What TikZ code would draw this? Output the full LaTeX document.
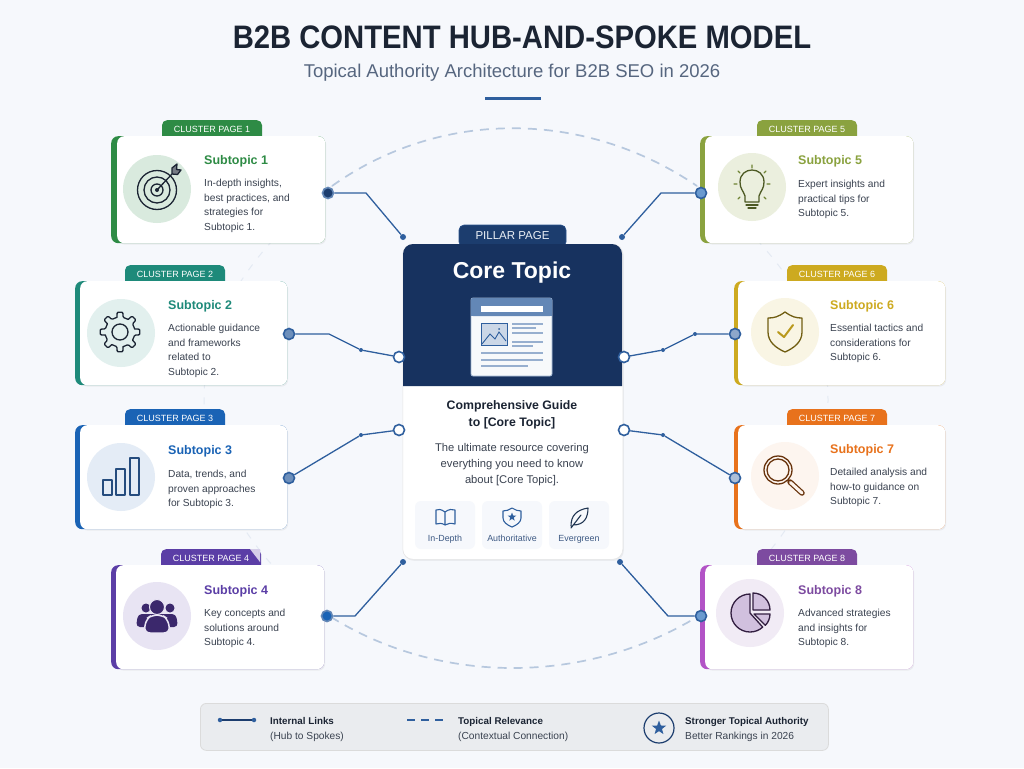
\documentclass[tikz,border=0pt]{standalone}
\usepackage{fontspec}
\setmainfont{Liberation Sans}
\newfontfamily\headfont[FakeStretch=.9]{Liberation Sans}
\usepackage{tikz}
\usetikzlibrary{calc,shadows,shapes.geometric}
\definecolor{pagebg}{HTML}{F6F8FC}
\definecolor{navy}{HTML}{17325F}
\definecolor{navytab}{HTML}{1C3D6E}
\definecolor{linkblue}{HTML}{2F5F9E}
\definecolor{dashblue}{HTML}{B7C8DE}
\definecolor{bodytext}{HTML}{3A4250}
\definecolor{slate}{HTML}{56667F}
\definecolor{inktext}{HTML}{1B2433}
\definecolor{green1}{HTML}{2E8B45}
\definecolor{teal2}{HTML}{1E8A7A}
\definecolor{blue3}{HTML}{1A63B5}
\definecolor{purple4}{HTML}{5B3EA6}
\definecolor{olive5}{HTML}{8AA23F}
\definecolor{gold6}{HTML}{CDAA20}
\definecolor{orange7}{HTML}{E8721C}
\definecolor{plum8}{HTML}{7D4BA0}
\begin{document}
\begin{tikzpicture}[x=1pt,y=-1pt]
    \tikzstyle{bar node}=[rectangle,rounded corners=7,anchor=north west,inner sep=0]
    \tikzstyle{card node}=[rectangle,rounded corners=7,anchor=north west,inner sep=0,fill=white,drop shadow={opacity=.1,shadow xshift=1pt,shadow yshift=-1.5pt}]
    \tikzstyle{tab node}=[rectangle,rounded corners=5,anchor=north,text=white,inner xsep=0,inner ysep=3.5,minimum width=100pt,text height=8.5pt,text depth=12pt,font=\fontsize{9}{11}\selectfont]
    \tikzstyle{disc node}=[circle,inner sep=0,minimum size=68pt]
    \tikzstyle{title node}=[anchor=west,inner sep=0,font=\fontsize{12.5}{14}\selectfont\bfseries]
    \tikzstyle{body node}=[anchor=north west,inner sep=0,align=left,text=bodytext,font=\fontsize{10.2}{14.5}\selectfont]
    \tikzstyle{port node}=[circle,draw=linkblue,line width=1.6,inner sep=0,minimum size=11pt]
    \tikzstyle{open node}=[circle,draw=linkblue,line width=1.6,fill=white,inner sep=0,minimum size=11pt]
    \tikzstyle{dot node}=[circle,fill=linkblue,inner sep=0,minimum size=6pt]
    \tikzstyle{tiny node}=[circle,fill=linkblue,inner sep=0,minimum size=4pt]
    \tikzstyle{link}=[draw=linkblue,line width=1.3]
    \tikzstyle{relevance}=[draw=dashblue,line width=1.7,dash pattern=on 9pt off 7pt]
    \tikzstyle{faint}=[draw=dashblue,line width=1,opacity=.28,dash pattern=on 7pt off 9pt]
    \tikzstyle{badge node}=[rectangle,rounded corners=6,fill=pagebg,inner sep=0,minimum width=60pt,minimum height=48pt]
    \tikzstyle{badge text}=[anchor=base,inner sep=0,text=navytab!85,font=\fontsize{8.9}{10}\selectfont]
    \tikzstyle{legend bold}=[anchor=base west,inner sep=0,text=inktext,font=\fontsize{9.8}{11}\selectfont\bfseries]
    \tikzstyle{legend plain}=[anchor=base west,inner sep=0,text=bodytext,font=\fontsize{10.2}{11}\selectfont]
    \tikzstyle{icon}=[line width=1.3,line join=round,line cap=round]

    \fill[pagebg](0,0)rectangle(1024,768);
    \useasboundingbox(0,0)rectangle(1024,768);

    \node(title)[inner sep=0,text=inktext,font=\headfont\fontsize{32.5}{36}\selectfont\bfseries]at(522,37){B2B CONTENT HUB-AND-SPOKE MODEL};
    \node(subtitle)[inner sep=0,text=slate,font=\fontsize{18.5}{20}\selectfont]at(512,73){Topical Authority Architecture for B2B SEO in 2026};
    \draw[linkblue,line width=3](485,98.5)--(541,98.5);

    \coordinate(ul)at(332,186);
    \coordinate(ur)at(697,186);
    \coordinate(ll)at(331,617);
    \coordinate(lr)at(697,617);
    \draw[relevance](ul)..controls(440,109)and(584,109)..(ur);
    \draw[relevance](ll)..controls(440,685)and(584,685)..(lr);
    \draw[faint](ul)..controls(250,250)and(204,320)..(204,400)..controls(204,480)and(250,560)..(ll);
    \draw[faint](ur)..controls(780,250)and(828,320)..(828,400)..controls(828,480)and(780,560)..(lr);

    % left cards
    \node(tab1)[tab node,fill=green1]at(212,120){CLUSTER PAGE 1};
    \node(bar1)[bar node,fill=green1,minimum width=214pt,minimum height=107pt]at(111,136){};
    \node(c1)[card node,minimum width=208pt,minimum height=107pt]at(117,136){};
    \node(disc1)[disc node,fill=green1!18]at(157,189){};
    \draw[icon,inktext](157,190)circle(19.5)(157,190)circle(13)(157,190)circle(6);
    \fill[inktext](157,190)circle(2);
    \draw[icon,inktext](157,190)--(172,174);
    \draw[icon,inktext,fill=inktext!60](172,174)--(172,168)--(177,164)--(176.5,169.5)--(181,170)--(177.5,174.5)--cycle;
    \node(t1)[title node,text=green1]at(204,161.5){Subtopic 1};
    \node(b1)[body node]at(204,179){In-depth insights,\\best practices, and\\strategies for\\Subtopic 1.};

    \node(tab2)[tab node,fill=teal2]at(175,265){CLUSTER PAGE 2};
    \node(bar2)[bar node,fill=teal2,minimum width=212pt,minimum height=104pt]at(75,281){};
    \node(c2)[card node,minimum width=207pt,minimum height=104pt]at(80,281){};
    \node(disc2)[disc node,fill=teal2!13]at(121,333){};
    \foreach \a in {0,45,...,315}{
        \draw[icon,inktext,rounded corners=1]($(120,332)+(\a-12:15)$)--($(120,332)+(\a-8:20)$)--($(120,332)+(\a+8:20)$)--($(120,332)+(\a+12:15)$)--($(120,332)+(\a+33:15)$);
    }
    \draw[icon,inktext](120,332)circle(8);
    \node(t2)[title node,text=teal2]at(168,306.5){Subtopic 2};
    \node(b2)[body node]at(168,324){Actionable guidance\\and frameworks\\related to\\Subtopic 2.};

    \node(tab3)[tab node,fill=blue3]at(175,409){CLUSTER PAGE 3};
    \node(bar3)[bar node,fill=blue3,minimum width=212pt,minimum height=104pt]at(75,425){};
    \node(c3)[card node,minimum width=207pt,minimum height=104pt]at(80,425){};
    \node(disc3)[disc node,fill=blue3!12]at(121,477){};
    \draw[icon,linkblue!80!black,line width=1.1,line cap=butt](103,480)rectangle(112,495)(116,469)rectangle(125,495)(130,458)rectangle(139,495);
    \node(t3)[title node,text=blue3]at(168,451.5){Subtopic 3};
    \node(b3)[body node]at(168,470){Data, trends, and\\proven approaches\\for Subtopic 3.};

    \node(tab4)[tab node,fill=purple4]at(211,549){CLUSTER PAGE 4};
    \fill[purple4!25](250,549)--(260,549)--(260,562)--cycle;
    \node(bar4)[bar node,fill=purple4,minimum width=213pt,minimum height=104pt]at(111,565){};
    \node(c4)[card node,minimum width=208pt,minimum height=104pt]at(116,565){};
    \node(disc4)[disc node,fill=purple4!14]at(157,616){};
    \fill[purple4!65!black](146,608)circle(4.5)(170,608)circle(4.5);
    \fill[purple4!65!black,rounded corners=4](136,627)--(138,614)--(152,614)--(162,614)--(176,614)--(178,627)--cycle;
    \draw[draw=purple4!14,line width=1.5,fill=purple4!65!black,rounded corners=6](144,633)--(146,619)--(152,615)--(162,615)--(168,619)--(170,633)--cycle;
    \draw[draw=purple4!14,line width=1,fill=purple4!65!black](157,607)circle(7.5);
    \node(t4)[title node,text=purple4]at(204,591.5){Subtopic 4};
    \node(b4)[body node]at(204,609){Key concepts and\\solutions around\\Subtopic 4.};

    % right cards
    \node(tab5)[tab node,fill=olive5]at(807,120){CLUSTER PAGE 5};
    \node(bar5)[bar node,fill=olive5,minimum width=213pt,minimum height=107pt]at(700,136){};
    \node(c5)[card node,minimum width=208pt,minimum height=107pt]at(705,136){};
    \node(disc5)[disc node,fill=olive5!17]at(752,187){};
    \draw[icon,olive5!55!black](745,202)--(745,196)..controls(743,190)and(740,189)..(740,182)..controls(740,166)and(764,166)..(764,182)..controls(764,189)and(761,190)..(759,196)--(759,202)--cycle;
    \draw[icon,olive5!55!black](746,205)--(758,205)(748,208)--(756,208);
    \draw[icon,olive5!80!black](734,184)--(737,184)(767,184)--(770,184)(752,165)--(752,168)(738,171)--(740,173)(766,171)--(764,173)(738,199)--(740,197)(766,199)--(764,197);
    \node(t5)[title node,text=olive5]at(798,161.5){Subtopic 5};
    \node(b5)[body node]at(798,180){Expert insights and\\practical tips for\\Subtopic 5.};

    \node(tab6)[tab node,fill=gold6]at(837,265){CLUSTER PAGE 6};
    \node(bar6)[bar node,fill=gold6,minimum width=211pt,minimum height=104pt]at(734,281){};
    \node(c6)[card node,minimum width=207pt,minimum height=104pt]at(738,281){};
    \node(disc6)[disc node,fill=gold6!12]at(785,332){};
    \draw[icon,gold6!55!black](785,312)..controls(778,317)and(774,318)..(768,318)--(768,332)..controls(768,342)and(776,348)..(785,352)..controls(794,348)and(802,342)..(802,332)--(802,318)..controls(796,318)and(792,317)..(785,312)--cycle;
    \draw[icon,gold6!90!black,line width=2](778,332)--(784,337)--(793,325);
    \node(t6)[title node,text=gold6]at(830,306.5){Subtopic 6};
    \node(b6)[body node]at(830,324){Essential tactics and\\considerations for\\Subtopic 6.};

    \node(tab7)[tab node,fill=orange7]at(837,409){CLUSTER PAGE 7};
    \node(bar7)[bar node,fill=orange7,minimum width=211pt,minimum height=104pt]at(734,425){};
    \node(c7)[card node,minimum width=207pt,minimum height=104pt]at(738,425){};
    \node(disc7)[disc node,fill=orange7!7]at(785,476){};
    \draw[icon,orange7!45!black](778,470)circle(14)(778,470)circle(11);
    \draw[icon,orange7!45!black,line width=5.5](790,482)--(802,493);
    \draw[icon,orange7!8,line width=3](790.5,482.5)--(802,493);
    \node(t7)[title node,text=orange7]at(830,450.5){Subtopic 7};
    \node(b7)[body node]at(830,468){Detailed analysis and\\how-to guidance on\\Subtopic 7.};

    \node(tab8)[tab node,fill=plum8]at(807,549){CLUSTER PAGE 8};
    \node(bar8)[bar node,fill=plum8!70!magenta!85,minimum width=213pt,minimum height=104pt]at(700,565){};
    \node(c8)[card node,minimum width=208pt,minimum height=104pt]at(705,565){};
    \node(disc8)[disc node,fill=plum8!11]at(750,613){};
    \draw[icon,plum8!40!black,fill=plum8!35](750,613)--(750,594)arc[start angle=270,end angle=48,radius=19]--cycle;
    \draw[icon,plum8!40!black,fill=plum8!35](753,610)--(753,593)arc[start angle=270,end angle=360,radius=17]--cycle;
    \draw[icon,plum8!40!black,fill=plum8!35](754,614)--(770,614)arc[start angle=0,end angle=45,radius=16]--cycle;
    \node(t8)[title node,text=plum8]at(798,591.5){Subtopic 8};
    \node(b8)[body node]at(798,609){Advanced strategies\\and insights for\\Subtopic 8.};

    % pillar
    \node(tab0)[rectangle,rounded corners=5,fill=navytab,draw=linkblue!70!navy,line width=.6,text=white!90!linkblue,inner sep=0,minimum width=107pt,minimum height=22pt,font=\fontsize{11.5}{13}\selectfont]at(512.5,236){PILLAR PAGE};
    \node(pillar)[rectangle,rounded corners=10,anchor=north west,inner sep=0,fill=white,draw=black!10,line width=.6,minimum width=220pt,minimum height=315pt,drop shadow={opacity=.1,shadow xshift=1pt,shadow yshift=-1.5pt}]at(402.5,244){};
    \fill[navy][rounded corners=10](403,386)--(403,244)--(622,244)[sharp corners]--(622,386)--cycle;
    \node(core)[inner sep=0,text=white,font=\fontsize{23}{26}\selectfont\bfseries]at(512,273){Core Topic};
    \draw[linkblue!45,line width=.8,fill=white!96!linkblue,rounded corners=2](471,298)rectangle(552,376);
    \fill[linkblue!75!white,rounded corners=2](471,298)rectangle(552,316);
    \fill[linkblue!75!white](471,312)rectangle(552,316);
    \fill[white](481,306)rectangle(543,312);
    \draw[linkblue,line width=.8,fill=linkblue!25](481,323)rectangle(507,345);
    \draw[linkblue,line width=.9](482,344)--(490,334)--(495,339)--(499,332)--(506,341);
    \fill[linkblue](499,329)circle(1);
    \draw[linkblue!50,line width=1.3](512,324)--(543,324)(512,328)--(536,328)(512,333)--(543,333)(512,342)--(543,342)(512,346)--(533,346)(481,353)--(543,353)(481,360)--(543,360)(481,366)--(528,366);
    \node(guide)[inner sep=0,align=center,text=inktext,font=\fontsize{12.3}{17}\selectfont\bfseries]at(512,414.5){Comprehensive Guide\\to [Core Topic]};
    \node(about)[inner sep=0,align=center,text=bodytext,font=\fontsize{11.2}{16}\selectfont]at(512,465){The ultimate resource covering\\everything you need to know\\about [Core Topic].};

    \node(in)[badge node]at(445,525){};
    \node(au)[badge node]at(512,525){};
    \node(ev)[badge node]at(579,525){};
    \node(intext)[badge text]at(445,541){In-Depth};
    \node(autext)[badge text]at(512,541){Authoritative};
    \node(evtext)[badge text]at(579,541){Evergreen};
    \draw[icon,linkblue,line width=1.1](445,512)..controls(441,509)and(438,509)..(436,510)--(436,524)..controls(439,523)and(442,523)..(445,525)..controls(448,523)and(451,523)..(455,524)--(455,510)..controls(452,509)and(449,509)..(445,512)--(445,525);
    \draw[icon,linkblue,line width=1.1](512,508)..controls(509,510)and(506,511)..(503,511)--(503,518)..controls(503,522)and(507,525)..(512,527)..controls(517,525)and(521,522)..(521,518)--(521,511)..controls(518,511)and(515,510)..(512,508)--cycle;
    \node(austar)[star,star points=5,star point ratio=2.4,fill=linkblue,inner sep=0,minimum size=9pt]at(512,517){};
    \draw[icon,inktext!70!linkblue,line width=1.1](571,526)..controls(571,516)and(576,510)..(588,508)..controls(588,518)and(584,525)..(573,525)(571,528)--(581,515);

    % ports
    \node(p1)[port node,draw=linkblue!75,fill=navytab]at(328,193){};
    \node(p2)[port node,fill=linkblue!70!white]at(289,334){};
    \node(p3)[port node,fill=linkblue!70!white]at(289,478){};
    \node(p4)[port node,draw=linkblue!75,fill=blue3]at(327,616){};
    \node(p5)[port node,fill=blue3!65!white]at(701,193){};
    \node(p6)[port node,fill=linkblue!55!white]at(735,334){};
    \node(p7)[port node,fill=linkblue!40!white]at(735,478){};
    \node(p8)[port node,fill=blue3!65!white]at(701,616){};
    \node(d1)[dot node]at(403,237){};
    \node(d4)[dot node]at(403,562){};
    \node(d5)[dot node]at(622,237){};
    \node(d8)[dot node]at(620,562){};
    \node(o2)[open node]at(399,357){};
    \node(o3)[open node]at(399,430){};
    \node(o6)[open node]at(624,357){};
    \node(o7)[open node]at(624,430){};
    \node(k2)[tiny node]at(361,350){};
    \node(k3)[tiny node]at(361,435){};
    \node(k6)[tiny node]at(663,350){};
    \node(k6b)[tiny node]at(695,334){};
    \node(k7)[tiny node]at(663,435){};
    \draw[link](p1)--(366,193)--(d1);
    \draw[link](p2)--(329,334)--(k2)--(o2);
    \draw[link](p3)--(k3)--(o3);
    \draw[link](p4)--(355,616)--(d4);
    \draw[link](p5)--(661,193)--(d5);
    \draw[link](p6)--(k6b)--(k6)--(o6);
    \draw[link](p7)--(k7)--(o7);
    \draw[link](p8)--(668,616)--(d8);

    % legend
    \node(legend)[rectangle,rounded corners=6,anchor=north west,inner sep=0,fill=black!5!pagebg,draw=black!14,line width=.8,minimum width=628pt,minimum height=47pt]at(200,703){};
    \node(la)[tiny node,minimum size=4.5pt]at(220,720){};
    \node(lb)[tiny node,minimum size=4.5pt]at(254,720){};
    \draw[link,draw=navytab](la)--(lb);
    \coordinate(lc)at(407,720);
    \coordinate(ld)at(443,720);
    \draw[linkblue,line width=1.6,dash pattern=on 8pt off 6pt](lc)--(ld);
    \node(ring)[circle,draw=navytab,line width=1.2,inner sep=0,minimum size=30pt]at(659,728){};
    \node(lstar)[star,star points=5,star point ratio=2.4,fill=linkblue,inner sep=0,minimum size=15pt]at(659,728){};
    \node(l1)[legend bold]at(270,724){Internal Links};
    \node(l2)[legend plain]at(270,739){(Hub to Spokes)};
    \node(l3)[legend bold]at(458,724){Topical Relevance};
    \node(l4)[legend plain]at(458,739){(Contextual Connection)};
    \node(l5)[legend bold]at(685,724){Stronger Topical Authority};
    \node(l6)[legend plain]at(685,739){Better Rankings in 2026};
\end{tikzpicture}
\end{document}
